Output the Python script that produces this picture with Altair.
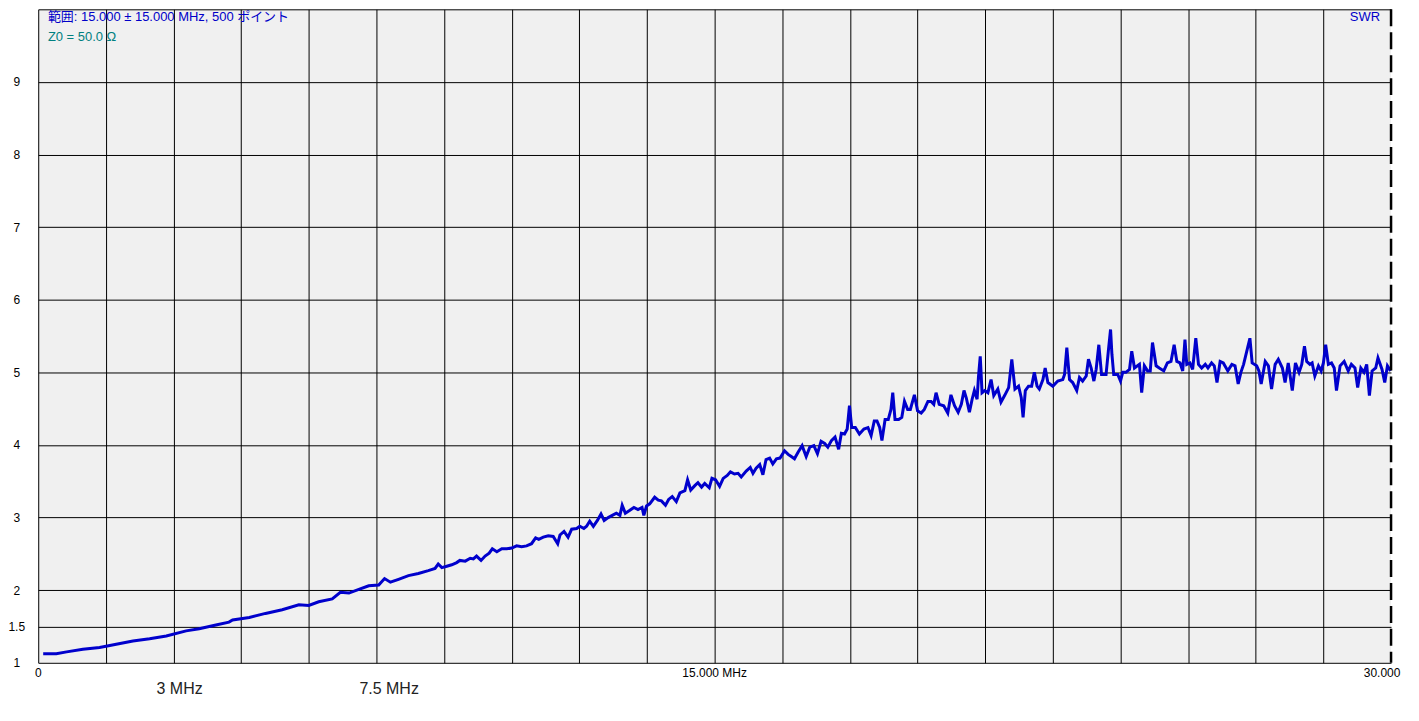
import altair as alt
import pandas as pd

# ---- data ----
freq_mhz = [
    0.11, 0.40, 0.63, 0.99, 1.36, 1.73, 2.10, 2.47, 2.84, 3.28, 3.57, 3.94, 4.23, 4.31, 4.68,
    5.04, 5.41, 5.78, 6.00, 6.22, 6.52, 6.70, 6.89, 7.11, 7.33, 7.55, 7.68, 7.81, 7.99, 8.21,
    8.43, 8.65, 8.80, 8.87,
    8.95, 9.06, 9.17, 9.28, 9.35, 9.47, 9.58, 9.65, 9.72, 9.82, 9.91, 10.00, 10.07, 10.17,
    10.28, 10.39, 10.50, 10.61, 10.72, 10.83, 10.94, 11.03, 11.10, 11.20, 11.31, 11.42, 11.52,
    11.57, 11.66, 11.75, 11.83, 11.94, 12.01, 12.10, 12.16, 12.23, 12.31, 12.40, 12.48, 12.55,
    12.64, 12.73, 12.82, 12.90, 12.95, 13.02, 13.12, 13.21, 13.30, 13.39, 13.43, 13.49, 13.56,
    13.67, 13.75, 13.82, 13.91, 13.98, 14.06, 14.15, 14.23, 14.34, 14.40, 14.47, 14.56, 14.63,
    14.71, 14.78, 14.88, 14.94, 15.02, 15.11, 15.19, 15.28, 15.35, 15.44, 15.52, 15.59, 15.70,
    15.79, 15.85, 15.92, 16.00, 16.07, 16.14, 16.22, 16.29, 16.37, 16.45,
    16.55, 16.63, 16.70, 16.77, 16.85, 16.94, 17.03, 17.11, 17.20, 17.28, 17.36, 17.44, 17.51,
    17.59, 17.67, 17.75, 17.81, 17.88, 17.94, 17.99, 18.04, 18.12, 18.21, 18.31, 18.40, 18.47,
    18.54, 18.60, 18.66, 18.71, 18.78, 18.85, 18.91, 18.95, 19.00, 19.08, 19.15, 19.21, 19.28,
    19.34, 19.43, 19.50, 19.58, 19.65, 19.73, 19.80, 19.86, 19.91, 19.98, 20.08, 20.17, 20.24,
    20.32,
    20.40, 20.47, 20.53, 20.58, 20.65, 20.71, 20.76, 20.82, 20.85, 20.89, 20.93, 20.99, 21.06,
    21.13, 21.19, 21.28, 21.35, 21.43, 21.52, 21.59, 21.66, 21.74, 21.80, 21.84, 21.89, 21.96,
    22.03, 22.09, 22.15, 22.20, 22.28, 22.33, 22.39, 22.50, 22.61, 22.72, 22.76, 22.81, 22.87,
    22.94, 23.03, 23.09, 23.16, 23.24, 23.29, 23.35, 23.41, 23.46, 23.52, 23.58, 23.68, 23.73,
    23.78, 23.81, 23.85, 23.94, 24.00, 24.05, 24.12, 24.20, 24.25, 24.31, 24.42, 24.47, 24.53,
    24.60, 24.66, 24.71, 24.79, 24.86, 24.96, 25.04, 25.12, 25.19,
    25.25, 25.32, 25.38, 25.43, 25.47, 25.54, 25.60, 25.67, 25.73, 25.80, 25.88, 25.94, 26.02,
    26.08, 26.14, 26.21, 26.28, 26.38, 26.47, 26.54, 26.61, 26.67, 26.73, 26.82, 26.87, 26.92,
    27.02, 27.07, 27.12, 27.21, 27.28, 27.35, 27.43, 27.50, 27.59, 27.65, 27.72, 27.81, 27.88,
    27.96, 28.02, 28.08, 28.13, 28.20, 28.25, 28.31, 28.39, 28.45, 28.50, 28.55, 28.61, 28.68,
    28.74, 28.79, 28.87, 28.96, 29.05, 29.12, 29.20, 29.26, 29.33, 29.40, 29.46, 29.52, 29.58,
    29.66, 29.71, 29.80, 29.86, 29.92, 29.99,
]
swr = [
    1.125, 1.125, 1.15, 1.185, 1.21, 1.255, 1.30, 1.33, 1.37, 1.44, 1.47, 1.52, 1.56, 1.59, 1.625,
    1.68, 1.73, 1.80, 1.79, 1.84, 1.88, 1.97, 1.96, 2.01, 2.06, 2.07, 2.16, 2.11, 2.15, 2.20,
    2.23, 2.27, 2.30, 2.36,
    2.31, 2.33, 2.35, 2.38, 2.41, 2.40, 2.44, 2.43, 2.47, 2.41, 2.47, 2.51, 2.57, 2.53,
    2.57, 2.57, 2.58, 2.61, 2.60, 2.61, 2.64, 2.72, 2.70, 2.73, 2.75, 2.74, 2.64,
    2.76, 2.81, 2.73, 2.84, 2.85, 2.88, 2.85, 2.88, 2.95, 2.88, 2.96, 3.05, 2.96,
    3.00, 3.03, 3.06, 3.03, 3.17, 3.06, 3.10, 3.14, 3.11, 3.14, 3.03, 3.16, 3.19,
    3.28, 3.24, 3.23, 3.17, 3.25, 3.29, 3.22, 3.34, 3.37, 3.52, 3.38, 3.44, 3.48,
    3.42, 3.47, 3.41, 3.54, 3.52, 3.43, 3.54, 3.58, 3.63, 3.60, 3.61, 3.56, 3.64,
    3.69, 3.61, 3.68, 3.73, 3.59, 3.80, 3.82, 3.74, 3.81, 3.82,
    3.92, 3.87, 3.84, 3.81, 3.90, 3.99, 3.84, 3.97, 3.99, 3.88, 4.05, 4.02, 3.97,
    4.06, 4.11, 3.94, 4.16, 4.15, 4.22, 4.54, 4.24, 4.24, 4.15, 4.22, 4.24, 4.13,
    4.33, 4.33, 4.24, 4.06, 4.35, 4.35, 4.49, 4.72, 4.35, 4.35, 4.38, 4.60, 4.49,
    4.49, 4.69, 4.47, 4.44, 4.49, 4.60, 4.60, 4.56, 4.72, 4.56, 4.54, 4.44, 4.69,
    4.54,
    4.45, 4.56, 4.75, 4.65, 4.45, 4.63, 4.75, 4.63, 4.93, 5.22, 4.72, 4.75, 4.72,
    4.90, 4.68, 4.77, 4.59, 4.68, 4.79, 5.18, 4.77, 4.81, 4.65, 4.38, 4.75, 4.81,
    4.81, 5.00, 4.81, 4.77, 4.90, 5.06, 4.86, 4.81, 4.88, 4.90, 4.97, 5.34, 4.90,
    4.86, 4.75, 4.93, 4.88, 4.95, 5.18, 5.06, 4.88, 5.04, 5.38, 4.97, 4.97, 5.29,
    5.59, 5.25, 4.97, 4.97, 4.88, 5.00, 5.00, 5.04, 5.29, 5.06, 5.11, 4.72, 5.09,
    5.02, 5.02, 5.41, 5.09, 5.06, 5.02, 5.13, 5.15, 5.38,
    5.15, 5.13, 5.02, 5.45, 5.11, 5.13, 5.04, 5.47, 5.11, 5.06, 5.11, 5.06, 5.13,
    5.09, 4.86, 5.15, 5.13, 5.02, 5.11, 5.09, 4.84, 5.00, 5.11, 5.34, 5.47, 5.13,
    5.09, 5.02, 4.84, 5.15, 5.09, 4.77, 5.11, 5.18, 5.06, 4.86, 5.13, 4.75, 5.13,
    5.00, 5.11, 5.36, 5.15, 5.11, 5.13, 4.95, 5.09, 5.02, 5.13, 5.38, 5.11, 5.13,
    5.06, 4.75, 5.09, 5.15, 5.02, 5.11, 5.06, 4.79, 5.06, 5.00, 5.11, 4.68, 5.02,
    5.06, 5.20, 5.04, 4.86, 5.09, 5.02,
]

x_grid = [0, 1.5, 3, 4.5, 6, 7.5, 9, 10.5, 12, 13.5, 15, 16.5, 18, 19.5, 21,
          22.5, 24, 25.5, 27, 28.5]
x_end = [30]
y_ticks = [1, 1.5, 2, 3, 4, 5, 6, 7, 8, 9, 10]

x_label_pos = [0, 15]
x_label_text = ["0", "15.000 MHz"]
x_end_text = ["30.000"]
band_pos = [3, 7.5]
band_text = ["3 MHz", "7.5 MHz"]

title_text = "範囲: 15.000 ± 15.000 MHz, 500 ポイント"
z0_text = "Z0 = 50.0 Ω"
trace_name = "SWR"

W = 1356
H = 655
FONT = "Liberation Sans, Noto Sans CJK JP"

xs = alt.Scale(domain=[0, 30], nice=False, zero=False)
ys = alt.Scale(domain=[1, 10], nice=False, zero=False)

df = pd.DataFrame({"f": freq_mhz, "s": swr})

line = alt.Chart(df).mark_line(color="#0000CC", strokeWidth=3, interpolate="linear").encode(
    x=alt.X("f:Q", scale=xs,
            axis=alt.Axis(values=x_grid, grid=True, labels=False, ticks=False, domain=False,
                          title=None, gridColor="black", gridWidth=1, gridOpacity=1)),
    y=alt.Y("s:Q", scale=ys,
            axis=alt.Axis(values=y_ticks, grid=True, ticks=False, tickSize=0, domain=False,
                          title=None, labelAlign="center", labelBaseline="middle",
                          labelPadding=22, labelFlush=True,
                          labelExpr="datum.value == 10 ? '' : toString(datum.value)",
                          labelFont=FONT, labelFontSize=12, labelColor="black",
                          gridColor="black", gridWidth=1, gridOpacity=1)),
)

right_border = alt.Chart(pd.DataFrame({"f": x_end})).mark_rule(
    color="black", strokeWidth=2.5, strokeDash=[17, 6]
).encode(x=alt.X("f:Q", scale=xs), y=alt.value(0), y2=alt.value(H))

xlab = alt.Chart(pd.DataFrame({"f": x_label_pos, "t": x_label_text})).mark_text(
    font=FONT, fontSize=12, color="black", align="center", baseline="middle"
).encode(x=alt.X("f:Q", scale=xs), y=alt.value(H + 10.5), text="t:N")

xend = alt.Chart(pd.DataFrame({"f": x_end, "t": x_end_text})).mark_text(
    font=FONT, fontSize=12, color="black", align="center", baseline="middle", dx=-9
).encode(x=alt.X("f:Q", scale=xs), y=alt.value(H + 10.5), text="t:N")

band = alt.Chart(pd.DataFrame({"f": band_pos, "t": band_text})).mark_text(
    font=FONT, fontSize=16, color="#222222", align="left", baseline="middle", dx=-17
).encode(x=alt.X("f:Q", scale=xs), y=alt.value(H + 26.5), text="t:N")

title = alt.Chart(pd.DataFrame({"t": [title_text]})).mark_text(
    font=FONT, fontSize=13, color="#0000C8", align="left", baseline="middle"
).encode(x=alt.value(9.7), y=alt.value(7.5), text="t:N")

z0 = alt.Chart(pd.DataFrame({"t": [z0_text]})).mark_text(
    font=FONT, fontSize=13, color="#008080", align="left", baseline="middle"
).encode(x=alt.value(9.7), y=alt.value(27.5), text="t:N")

name = alt.Chart(pd.DataFrame({"t": [trace_name]})).mark_text(
    font=FONT, fontSize=13, color="#0000C8", align="right", baseline="middle"
).encode(x=alt.value(W - 11), y=alt.value(7.5), text="t:N")

chart = alt.layer(line, right_border, xlab, xend, band, title, z0, name).properties(
    width=W, height=H,
    autosize=alt.AutoSizeParams(type="none"),
    padding={"left": 30.3, "top": 0.5, "right": 20, "bottom": 50},
    background="white",
).configure_view(fill="#F0F0F0", stroke=None)

chart.save("out.html", embed_options={"renderer": "svg", "actions": False})
